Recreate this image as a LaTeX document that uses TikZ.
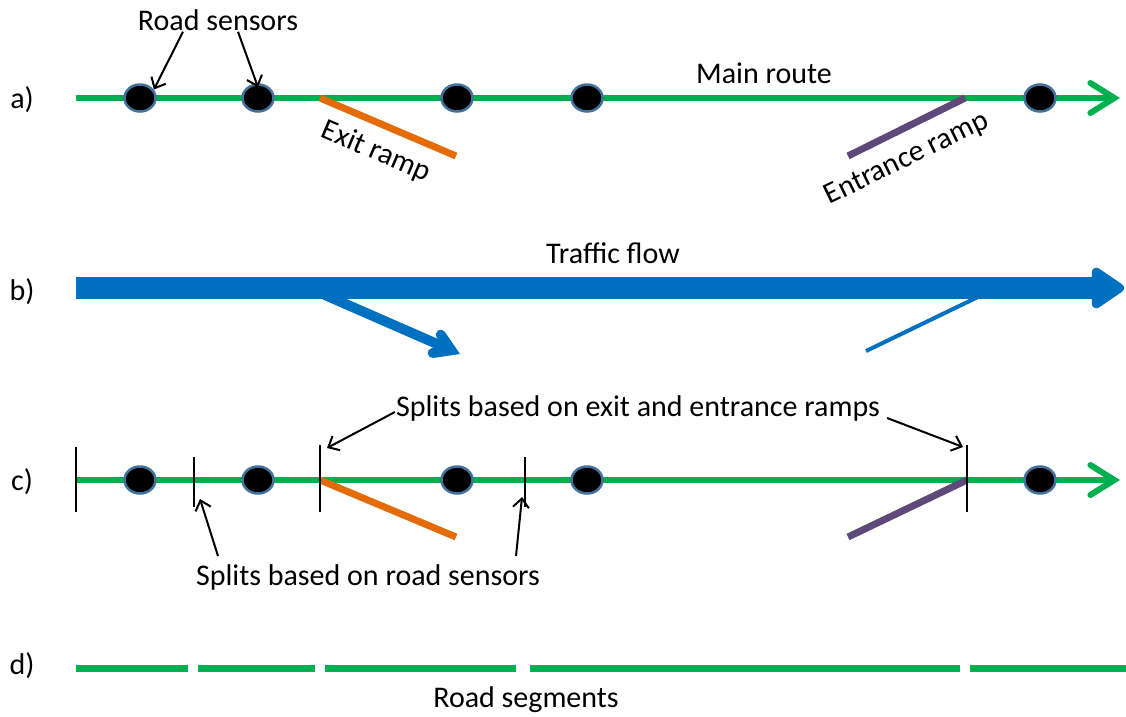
\documentclass[tikz,border=0pt]{standalone}
\usepackage{fontspec}
\setmainfont{Carlito}
\usetikzlibrary{arrows.meta,shapes.geometric}

\definecolor{routegreen}{HTML}{00B050}
\definecolor{rampexit}{HTML}{E36C09}
\definecolor{rampentry}{HTML}{5F497A}
\definecolor{flowblue}{HTML}{0070C0}
\definecolor{sensorrim}{HTML}{41719C}

\tikzset{
  route/.style={routegreen,line width=6pt,-{Straight Barb[length=24pt,width=30pt,line cap=round]}},
  sensor/.style={ellipse,fill=black,draw=sensorrim,line width=2.5pt,minimum width=31pt,minimum height=27pt,inner sep=0pt},
  exitramp/.style={rampexit,line width=7pt},
  entryramp/.style={rampentry,line width=7pt},
  splitmark/.style={black,line width=2.5pt},
  callout/.style={-{Straight Barb[length=9pt,width=16pt]},line width=2pt},
  txt/.style={font=\fontsize{30}{36}\selectfont,inner sep=1pt}
}

\begin{document}
\begin{tikzpicture}[x=1pt,y=-1pt]
    \useasboundingbox (0,0) rectangle (1126,716);

    % row labels
    \foreach \n/\y/\l in {la/100/a),lb/292/b),lc/482/c),ld/666/d)}
        \node[txt] (\n) at (22,\y) {\l};

    % a) main route with sensors and ramps
    \draw[route] (76,98) -- (1120,98);
    \draw[exitramp] (320,98) -- (456,156);
    \draw[entryramp] (848,156) -- (965,98);
    \foreach \i/\x in {1/140,2/258,3/457,4/587,5/1040}
        \node[sensor] (sa\i) at (\x,98) {};
    \node[txt] (sensors) at (218,20) {Road sensors};
    \node[txt] (mainroute) at (764,73) {Main route};
    \node[txt,rotate=-23] (exitlbl) at (376,152) {Exit ramp};
    \node[txt,rotate=26] (entrylbl) at (907,159) {Entrance ramp};
    \draw[callout] ([xshift=-35pt]sensors.south) -- ([shift={(2pt,-2pt)}]sa1.north east);
    \draw[callout] ([xshift=20pt]sensors.south) -- ([yshift=-4pt]sa2.north);

    % b) traffic flow
    \node[txt] (flow) at (613,253) {Traffic flow};
    \draw[flowblue,line width=22pt,-{Triangle[length=36pt,width=46pt,round]}] (76,288) -- (1124,288);
    \draw[flowblue,line width=10pt,line cap=round,-{Straight Barb[length=16pt,width=20pt,line cap=round]}] (325,295) -- (460,354);
    \draw[flowblue,line width=4pt] (866,351) -- (982,295);

    % c) splits
    \draw[route] (76,480) -- (1120,480);
    \draw[exitramp] (320,480) -- (456,537);
    \draw[entryramp] (848,537) -- (967,480);
    \foreach \i/\x in {1/140,2/258,3/457,4/587,5/1040}
        \node[sensor] (sc\i) at (\x,480) {};
    \foreach \n/\x/\t/\b in {t1/76/447/512,t2/194/457/507,t3/320/445/512,t4/525/457/507,t5/967/445/512} {
        \coordinate (\n top) at (\x,\t);
        \coordinate (\n bot) at (\x,\b);
        \draw[splitmark] (\n top) -- (\n bot);
    }
    \node[txt] (rampsplit) at (638,408) {Splits based on exit and entrance ramps};
    \node[txt] (sensorsplit) at (368,577) {Splits based on road sensors};
    \draw[callout] ([yshift=-4pt]rampsplit.west) -- ([shift={(7pt,-3pt)}]t3top);
    \draw[callout] ([shift={(6pt,-10pt)}]rampsplit.east) -- ([shift={(-4pt,-2pt)}]t5top);
    \draw[callout] (218,556) -- ([shift={(6pt,8pt)}]t2bot);
    \draw[callout] (516,556) -- ([shift={(-3pt,10pt)}]t4bot);

    % d) road segments
    \foreach \a/\b in {76/188,198/315,325/516,530/960,970/1126}
        \draw[routegreen,line width=7pt] (\a,668) -- (\b,668);
    \node[txt] (segments) at (526,700) {Road segments};
\end{tikzpicture}
\end{document}
